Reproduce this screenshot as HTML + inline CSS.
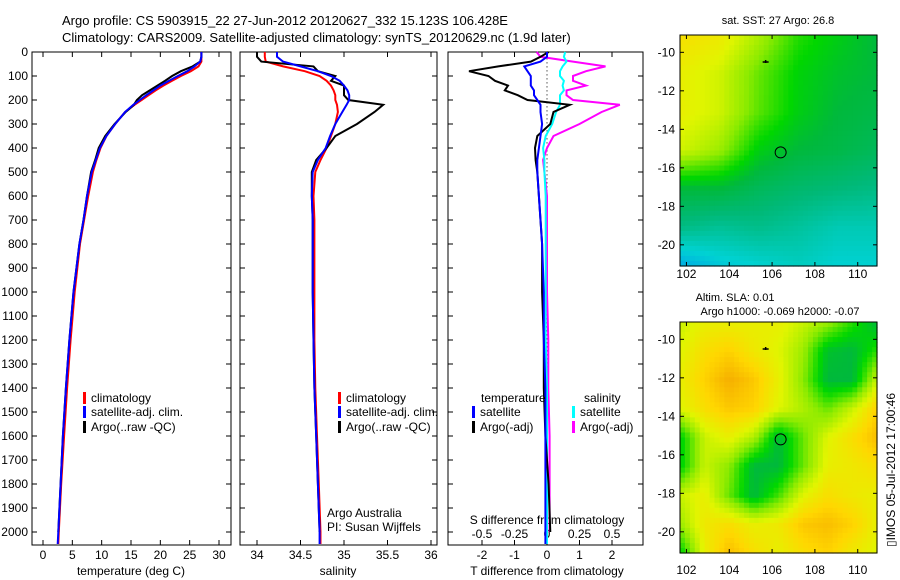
<!DOCTYPE html>
<html><head><meta charset="utf-8"><style>
body{margin:0;background:#fff;}
svg{display:block;font-family:"Liberation Sans",sans-serif;font-size:12px;}
</style></head><body>
<svg id="c" width="900" height="580" viewBox="0 0 900 580" xmlns="http://www.w3.org/2000/svg">
<text x="62" y="25" font-size="13">Argo profile: CS 5903915_22 27-Jun-2012 20120627_332 15.123S 106.428E</text>
<text x="62" y="42" font-size="13">Climatology: CARS2009. Satellite-adjusted climatology: synTS_20120629.nc (1.9d later)</text>
<text x="778" y="24" text-anchor="middle" font-size="11">sat. SST: 27 Argo: 26.8</text>
<text x="735" y="301" text-anchor="middle" font-size="11">Altim. SLA: 0.01</text>
<text x="780" y="315" text-anchor="middle" font-size="11">Argo h1000: -0.069 h2000: -0.07</text>
<text transform="translate(895,470) rotate(-90)" text-anchor="middle" font-size="12">▯IMOS 05-Jul-2012 17:00:46</text>
</svg>
<script>
const depths=[0,20,40,60,80,100,120,140,160,180,200,220,250,300,350,400,450,500,600,700,800,1000,1200,1400,1600,1800,2000,2050];
const tempClim=[27,27,27,26.5,25.2,23.5,22,20.5,19.2,18,16.8,15.6,14,12.3,10.8,9.8,9.1,8.5,7.7,7.0,6.3,5.4,4.7,4.1,3.6,3.1,2.7,2.6];
const tempSat=[27,27,26.8,25.8,24.6,23,21.5,20,18.8,17.6,16.5,15.4,14,12.3,10.8,9.7,9.0,8.3,7.5,6.9,6.2,5.2,4.5,3.9,3.4,3.0,2.6,2.5];
const tempArgo=[27,27,26.8,25.5,23.5,22.0,20.8,19.5,18.2,16.9,16.0,15.5,14.1,12.2,10.6,9.5,8.9,8.2,7.5,6.9,6.2,5.2,4.5,3.9,3.4,3.0,2.6];
const salClim=[34.09,34.09,34.1,34.3,34.55,34.72,34.8,34.85,34.88,34.9,34.9,34.92,34.93,34.9,34.85,34.8,34.73,34.67,34.65,34.66,34.66,34.66,34.66,34.67,34.69,34.71,34.73,34.73];
const salSat=[34.23,34.23,34.3,34.5,34.7,34.85,34.95,35.0,35.04,35.06,35.06,35.03,34.98,34.9,34.84,34.79,34.7,34.64,34.63,34.64,34.64,34.64,34.65,34.66,34.68,34.7,34.72,34.72];
const salArgo=[34.0,34.0,34.05,34.65,34.7,34.9,34.85,35.0,35.0,35.0,35.05,35.45,35.35,35.15,34.9,34.8,34.68,34.63,34.63,34.64,34.64,34.64,34.65,34.66,34.68,34.7,34.72];
const dTsat=[0,0,-0.2,-0.7,-0.6,-0.5,-0.5,-0.5,-0.4,-0.4,-0.3,-0.2,-0.2,-0.15,-0.2,-0.25,-0.3,-0.3,-0.25,-0.2,-0.15,-0.1,-0.1,-0.05,-0.05,-0.05,-0.05,-0.05];
const dTargo=[0.05,-0.2,-0.5,-1.5,-2.4,-1.8,-1.6,-1.2,-1.3,-0.9,-0.6,0.7,0.2,0.1,-0.3,-0.37,-0.35,-0.3,-0.25,-0.2,-0.15,-0.15,-0.1,-0.1,-0.05,0.05,0.1];
const dSsat=[0.14,0.13,0.15,0.12,0.1,0.1,0.13,0.12,0.13,0.1,0.1,0.1,0.07,0.04,-0.01,-0.03,-0.02,-0.02,-0.01,-0.01,-0.01,-0.01,-0.01,0,0,0,0,0];
const dSargo=[-0.08,-0.05,0.2,0.45,0.3,0.2,0.2,0.3,0.15,0.15,0.2,0.56,0.42,0.25,0.05,0.0,-0.03,-0.02,0.0,0.0,0.0,0.0,0.01,0.01,0.02,0.02,0.02];
const depthTicks=[0,100,200,300,400,500,600,700,800,900,1000,1100,1200,1300,1400,1500,1600,1700,1800,1900,2000];
const tempTicks=[0,5,10,15,20,25,30];
const salTicks=[34,34.5,35,35.5,36];
const dTTicks=[-2,-1,0,1,2];
const dSTicks=[-0.5,-0.25,0,0.25,0.5];
const sstGrid=[[0.85,0.82,0.72,0.6,0.55,0.5],[0.8,0.76,0.65,0.56,0.52,0.5],[0.8,0.76,0.64,0.55,0.5,0.48],[0.76,0.7,0.55,0.5,0.48,0.45],[0.5,0.5,0.45,0.42,0.4,0.38],[0.38,0.35,0.37,0.34,0.3,0.3],[0.15,0.22,0.25,0.28,0.25,0.25]];
const slaGrid=[[0.75,0.8,0.8,0.8,0.8,0.75,0.7,0.6,0.5],[0.78,0.85,0.88,0.82,0.78,0.7,0.52,0.5,0.6],[0.8,0.88,0.95,0.9,0.8,0.68,0.5,0.5,0.75],[0.78,0.85,0.9,0.88,0.78,0.72,0.65,0.75,0.88],[0.55,0.75,0.8,0.72,0.5,0.65,0.78,0.85,0.92],[0.55,0.75,0.68,0.5,0.5,0.65,0.8,0.82,0.85],[0.75,0.8,0.65,0.5,0.62,0.78,0.85,0.82,0.8],[0.7,0.82,0.85,0.8,0.82,0.9,0.92,0.88,0.8],[0.55,0.8,0.92,0.85,0.8,0.85,0.88,0.82,0.78]];
const lonTicks=[102,104,106,108,110];
const latTicks=[-10,-12,-14,-16,-18,-20];
const argoPos=[106.4,-15.2];
const prevPos=[105.7,-10.5];

const svg=document.getElementById('c');
const NS='http://www.w3.org/2000/svg';
function mk(tag,at,parent){const e=document.createElementNS(NS,tag);for(const k in at)e.setAttribute(k,at[k]);(parent||svg).appendChild(e);return e;}
const Y0=52,Y1=545,yD=d=>Y0+d*0.24;
function lin(v0,p0,v1,p1){return v=>p0+(v-v0)*(p1-p0)/(v1-v0);}
const P=[{x0:32,x1:231},{x0:240,x1:437},{x0:448,x1:643}];
const xT=lin(0,43,30,219), xS=lin(34,257,36,431), xdT=lin(0,547,2,612), xdS=lin(0,547,0.5,612);

function line(vals,xf,color,name,w){
  let d='';vals.forEach((v,i)=>{d+=(i?'L':'M')+xf(v).toFixed(1)+','+yD(depths[i]).toFixed(1);});
  const p=mk('path',{d:d,fill:'none',stroke:color,'stroke-width':w||2});
  
  
}
function frame(p,name){
  const r=mk('rect',{x:p.x0,y:Y0,width:p.x1-p.x0,height:Y1-Y0,fill:'none',stroke:'#000','stroke-width':1});
  
  
  depthTicks.forEach(d=>{const y=yD(d);mk('line',{x1:p.x0,x2:p.x0+5,y1:y,y2:y,stroke:'#000'});mk('line',{x1:p.x1,x2:p.x1-5,y1:y,y2:y,stroke:'#000'});});
}
function xticks(ticks,xf,ylab,top,bottom){
  ticks.forEach(t=>{const x=xf(t);
    if(top)mk('line',{x1:x,x2:x,y1:Y0,y2:Y0+5,stroke:'#000'});
    if(bottom)mk('line',{x1:x,x2:x,y1:Y1,y2:Y1-5,stroke:'#000'});
    const tx=mk('text',{x:x,y:ylab,'text-anchor':'middle'});tx.textContent=String(t);
    
    
  });
}
function txt(s,x,y,name,anchor){const t=mk('text',{x:x,y:y,'text-anchor':anchor||'start'});t.textContent=s;
  
  return t;}
function leg(x,y,color,s,name){mk('rect',{x:x,y:y-10,width:3,height:12,fill:color});txt(s,x+8,y,name);}

frame(P[0],'temperature-panel');
depthTicks.forEach(d=>{txt(String(d),28,yD(d)+4,'depth-tick-label','end');});
xticks(tempTicks,xT,559,true,true);
txt('temperature (deg C)',131,575,'temperature-axis-title','middle');
line(tempClim,xT,'#ff0000','temp-climatology-line');
line(tempArgo,xT,'#000000','temp-argo-line');
line(tempSat,xT,'#0000ff','temp-satellite-line');
leg(83,402,'#ff0000','climatology','legend-climatology');
leg(83,416,'#0000ff','satellite-adj. clim.','legend-satellite');
leg(83,431,'#000000','Argo(..raw -QC)','legend-argo');

frame(P[1],'salinity-panel');
xticks(salTicks,xS,559,true,true);
txt('salinity',338,575,'salinity-axis-title','middle');
line(salClim,xS,'#ff0000','sal-climatology-line');
line(salArgo,xS,'#000000','sal-argo-line');
line(salSat,xS,'#0000ff','sal-satellite-line');
leg(338,402,'#ff0000','climatology','legend-climatology-2');
leg(338,416,'#0000ff','satellite-adj. clim.','legend-satellite-2');
leg(338,431,'#000000','Argo(..raw -QC)','legend-argo-2');
txt('Argo Australia',327,517,'argo-australia-label');
txt('PI: Susan Wijffels',327,531,'pi-label');

frame(P[2],'difference-panel');
mk('line',{x1:547,x2:547,y1:yD(10),y2:yD(2000),stroke:'#000','stroke-dasharray':'1,3'});
xticks(dTTicks,xdT,559,true,true);
dSTicks.forEach(t=>{txt(String(t),xdS(t),538,'s-tick-label','middle');});
txt('S difference from climatology',547,524,'s-diff-axis-title','middle');
txt('T difference from climatology',547,575,'t-diff-axis-title','middle');
line(dSargo,xdS,'#ff00ff','s-diff-argo-line');
line(dSsat,xdS,'#00ffff','s-diff-satellite-line');
line(dTargo,xdT,'#000000','t-diff-argo-line');
line(dTsat,xdT,'#0000ff','t-diff-satellite-line');
txt('temperature',481,402,'legend-temperature-header');
txt('salinity',584,402,'legend-salinity-header');
leg(472,416,'#0000ff','satellite','legend-t-satellite');
leg(472,431,'#000000','Argo(-adj)','legend-t-argo');
leg(572,416,'#00ffff','satellite','legend-s-satellite');
leg(572,431,'#ff00ff','Argo(-adj)','legend-s-argo');

const stops=[[0,[0,110,255]],[0.25,[0,210,210]],[0.4,[0,185,120]],[0.5,[0,185,60]],[0.57,[0,215,0]],[0.68,[140,235,0]],[0.78,[225,245,0]],[0.87,[255,215,0]],[1,[240,150,0]]];
function cmap(v){for(let i=1;i<stops.length;i++){if(v<=stops[i][0]){const a=stops[i-1],b=stops[i],f=(v-a[0])/(b[0]-a[0]);return 'rgb('+a[1].map((c,k)=>Math.round(c+(b[1][k]-c)*f)).join(',')+')';}}return 'rgb(240,150,0)';}
function sample(g,u,v){const R=g.length-1,C=g[0].length-1;const y=Math.min(Math.max(v*R,0),R),x=Math.min(Math.max(u*C,0),C);
  const i=Math.min(Math.floor(y),R-1),j=Math.min(Math.floor(x),C-1),fy=y-i,fx=x-j;
  return g[i][j]*(1-fx)*(1-fy)+g[i][j+1]*fx*(1-fy)+g[i+1][j]*(1-fx)*fy+g[i+1][j+1]*fx*fy;}
function map(g,top,name,labY){
  const L=680,R=877,T=top,B=top+231;
  const lon=lin(101.7,L,110.9,R), lat=lin(-9.1,T,-21.1,B);
  const grp=mk('g',{});
  
  
  const nx=40,ny=46,cw=(R-L)/nx,ch=(B-T)/ny;
  for(let r=0;r<ny;r++)for(let c=0;c<nx;c++){
    mk('rect',{x:(L+c*cw).toFixed(2),y:(T+r*ch).toFixed(2),width:(cw+0.6).toFixed(2),height:(ch+0.6).toFixed(2),fill:cmap(sample(g,(c+0.5)/nx,(r+0.5)/ny))},grp);
  }
  mk('rect',{x:L,y:T,width:R-L,height:B-T,fill:'none',stroke:'#000'});
  lonTicks.forEach(t=>{const x=lon(t);mk('line',{x1:x,x2:x,y1:T,y2:T+4,stroke:'#000'});mk('line',{x1:x,x2:x,y1:B,y2:B-4,stroke:'#000'});txt(String(t),x,labY,'lon-tick-label','middle');});
  latTicks.forEach(t=>{const y=lat(t);mk('line',{x1:L,x2:L+4,y1:y,y2:y,stroke:'#000'});mk('line',{x1:R,x2:R-4,y1:y,y2:y,stroke:'#000'});txt(String(t),675,y+4,'lat-tick-label','end');});
  const c=mk('circle',{cx:lon(argoPos[0]),cy:lat(argoPos[1]),r:5.5,fill:'none',stroke:'#000','stroke-width':1});
  
  
  const m=mk('path',{d:'M'+(lon(prevPos[0])-3)+','+lat(prevPos[1])+'h6M'+lon(prevPos[0])+','+(lat(prevPos[1])-2)+'v3',stroke:'#000','stroke-width':1.5});
  
  
}
map(sstGrid,35,'sst-map',278);
map(slaGrid,322,'sla-map',574);
</script>
</body></html>
